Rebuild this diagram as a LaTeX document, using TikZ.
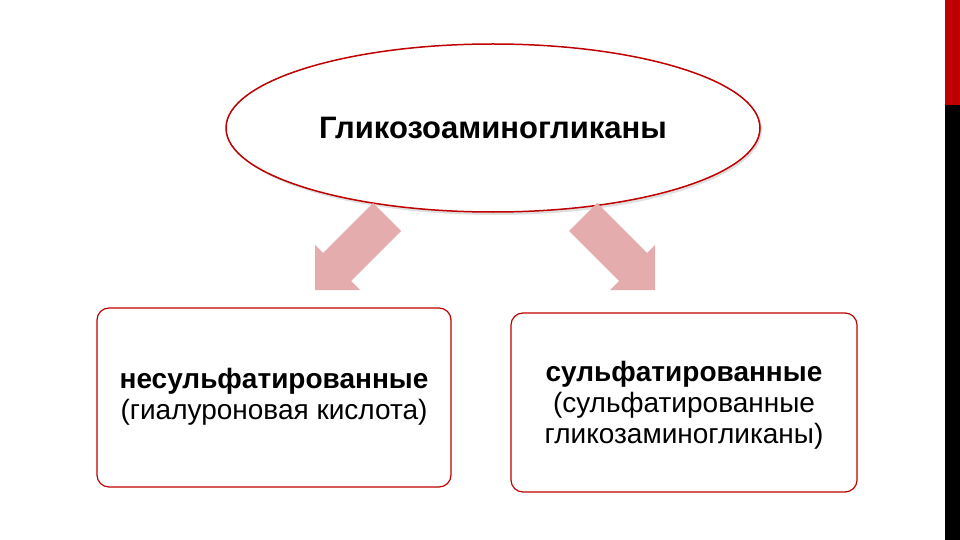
\documentclass[tikz,border=0pt]{standalone}
\usepackage{fontspec}
\setmainfont{Liberation Sans}
\begin{document}
\begin{tikzpicture}[x=1pt,y=-1pt,
  box/.style={draw=red!75!black,line width=1.2pt,rounded corners=12pt,fill=white},
  txt/.style={align=center,font=\fontsize{28}{31}\selectfont}]
\useasboundingbox (0,0) rectangle (960,540);
\fill[white] (0,0) rectangle (960,540);
\fill[red!75!black] (945,0) rectangle (960,105);
\fill[black] (945,105) rectangle (960,540);
\fill[gray!25] (495,130) ellipse (267 and 85);
\draw[draw=red!75!black,line width=1.5pt,fill=white] (493,128) ellipse (267 and 84);
\node[txt,font=\bfseries\fontsize{31}{34}\selectfont] (top) at (493,128) {Гликозоаминогликаны};
\fill[fill={rgb,255:red,228;green,172;blue,172}] (315,245)--(323,253)--(373,203)--(401,231)--(351,281)--(360,290)--(315,290)--cycle;
\fill[fill={rgb,255:red,228;green,172;blue,172}] (655,245)--(647,253)--(597,203)--(569,231)--(619,281)--(610,290)--(655,290)--cycle;
\draw[box] (97,308) rectangle (451,487);
\draw[box] (511,313) rectangle (857,492);
\node[txt] (l) at (274,397) {\textbf{несульфатированные}\\(гиалуроновая кислота)};
\node[txt] (r) at (684,405) {\textbf{сульфатированные}\\(сульфатированные\\гликозаминогликаны)};
\end{tikzpicture}
\end{document}
